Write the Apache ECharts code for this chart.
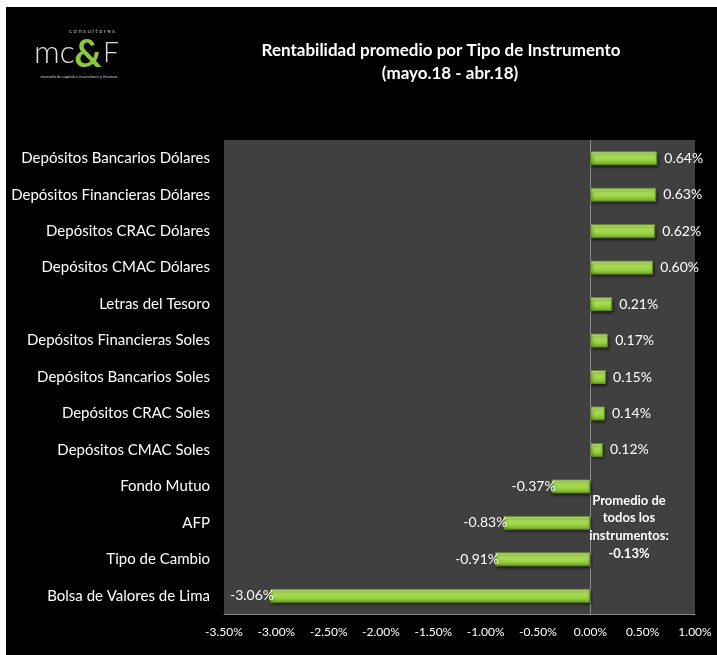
<!DOCTYPE html>
<html>
<head>
<meta charset="utf-8">
<script src="https://cdn.jsdelivr.net/npm/echarts@6/dist/echarts.min.js"></script>
<style>
html,body{margin:0;padding:0;background:#fff;}
#chart{width:717px;height:655px;}
</style>
</head>
<body>
<div id="chart"></div>
<script>
const categories = [
  'Depósitos Bancarios Dólares',
  'Depósitos Financieras Dólares',
  'Depósitos CRAC Dólares',
  'Depósitos CMAC Dólares',
  'Letras del Tesoro',
  'Depósitos Financieras Soles',
  'Depósitos Bancarios Soles',
  'Depósitos CRAC Soles',
  'Depósitos CMAC Soles',
  'Fondo Mutuo',
  'AFP',
  'Tipo de Cambio',
  'Bolsa de Valores de Lima'
];
const values = [0.64, 0.63, 0.62, 0.60, 0.21, 0.17, 0.15, 0.14, 0.12, -0.37, -0.83, -0.91, -3.06];
const xTicks = { min: -3.5, max: 1.0, interval: 0.5 };
const titleLines = ['Rentabilidad promedio por Tipo de Instrumento', '(mayo.18 - abr.18)'];
const averageLines = ['Promedio de', 'todos los', 'instrumentos:', '-0.13%'];

const FONT = 'Lato';
const chart = echarts.init(document.getElementById('chart'), null, { renderer: 'canvas' });

const barData = values.map(v => ({
  value: v,
  label: {
    position: v >= 0 ? 'right' : 'left',
    distance: v >= 0 ? 7 : -4
  }
}));

const option = {
  backgroundColor: '#000',
  animation: false,
  graphic: [
    { type: 'rect', x: 0, y: 0, shape: { width: 717, height: 7 }, style: { fill: '#fff' }, z: 100 },
    { type: 'rect', x: 0, y: 0, shape: { width: 6, height: 655 }, style: { fill: '#fff' }, z: 100 },
    // logo
    { type: 'text', x: 92, y: 31, style: { text: 'c o n s u l t o r e s', fill: '#bbb', font: '6px ' + FONT, align: 'center', verticalAlign: 'middle' } },
    { type: 'text', x: 34, y: 53, style: { text: 'mc', fill: '#ddd', font: '300 32px ' + FONT, verticalAlign: 'middle' } },
    { type: 'text', x: 88, y: 55, style: { text: '&', fill: '#8dc63f', font: 'bold 38px ' + FONT, align: 'center', verticalAlign: 'middle' } },
    { type: 'text', x: 103, y: 53, style: { text: 'F', fill: '#ddd', font: '300 28px ' + FONT, verticalAlign: 'middle' } },
    { type: 'text', x: 79, y: 77, style: { text: 'mercado de capitales, inversiones y finanzas', fill: '#ccc', font: '4px ' + FONT, align: 'center', verticalAlign: 'middle' } },
    // title
    { type: 'text', x: 441, y: 51, style: { text: titleLines[0], fill: '#fff', font: 'bold 17px ' + FONT, align: 'center', verticalAlign: 'middle' } },
    { type: 'text', x: 450, y: 74, style: { text: titleLines[1], fill: '#fff', font: 'bold 17px ' + FONT, align: 'center', verticalAlign: 'middle' } },
    // average note
    { type: 'text', x: 629, y: 527, style: { text: averageLines.join('\n'), fill: '#fff', font: 'bold 13px ' + FONT, align: 'center', verticalAlign: 'middle', lineHeight: 17.7 }, z: 50 }
  ],
  grid: {
    left: 224, top: 140, width: 471, height: 474,
    show: true, backgroundColor: '#404040', borderWidth: 0,
    containLabel: false
  },
  xAxis: {
    type: 'value',
    min: xTicks.min, max: xTicks.max, interval: xTicks.interval,
    axisLine: { show: true, onZero: false, lineStyle: { color: '#8c8c8c', width: 1 } },
    axisTick: { show: false },
    splitLine: { show: false },
    axisLabel: {
      color: '#fff', fontFamily: FONT, fontSize: 12, margin: 12,
      formatter: v => v.toFixed(2) + '%'
    }
  },
  yAxis: {
    type: 'category',
    data: categories,
    inverse: true,
    axisLine: { show: false },
    axisTick: { show: false },
    axisLabel: { color: '#fff', fontFamily: FONT, fontSize: 15, margin: 14 }
  },
  series: [{
    type: 'bar',
    data: barData,
    barWidth: 14,
    itemStyle: {
      color: new echarts.graphic.LinearGradient(0, 0, 0, 1, [
        { offset: 0, color: '#dff7a6' },
        { offset: 0.25, color: '#b3e55e' },
        { offset: 0.7, color: '#94cf3d' },
        { offset: 1, color: '#6f9f2b' }
      ]),
      borderColor: '#5e8a22',
      borderWidth: 1,
      shadowColor: 'rgba(0,0,0,0.6)',
      shadowBlur: 3,
      shadowOffsetX: 1,
      shadowOffsetY: 2
    },
    label: {
      show: true,
      color: '#fff',
      fontFamily: FONT,
      fontSize: 14,
      formatter: p => p.value.toFixed(2) + '%'
    },
    markLine: {
      silent: true,
      symbol: 'none',
      label: { show: false },
      lineStyle: { color: '#8c8c8c', type: 'solid', width: 1 },
      data: [{ xAxis: 0 }],
      z: 1
    }
  }]
};
chart.setOption(option);
</script>
</body>
</html>
